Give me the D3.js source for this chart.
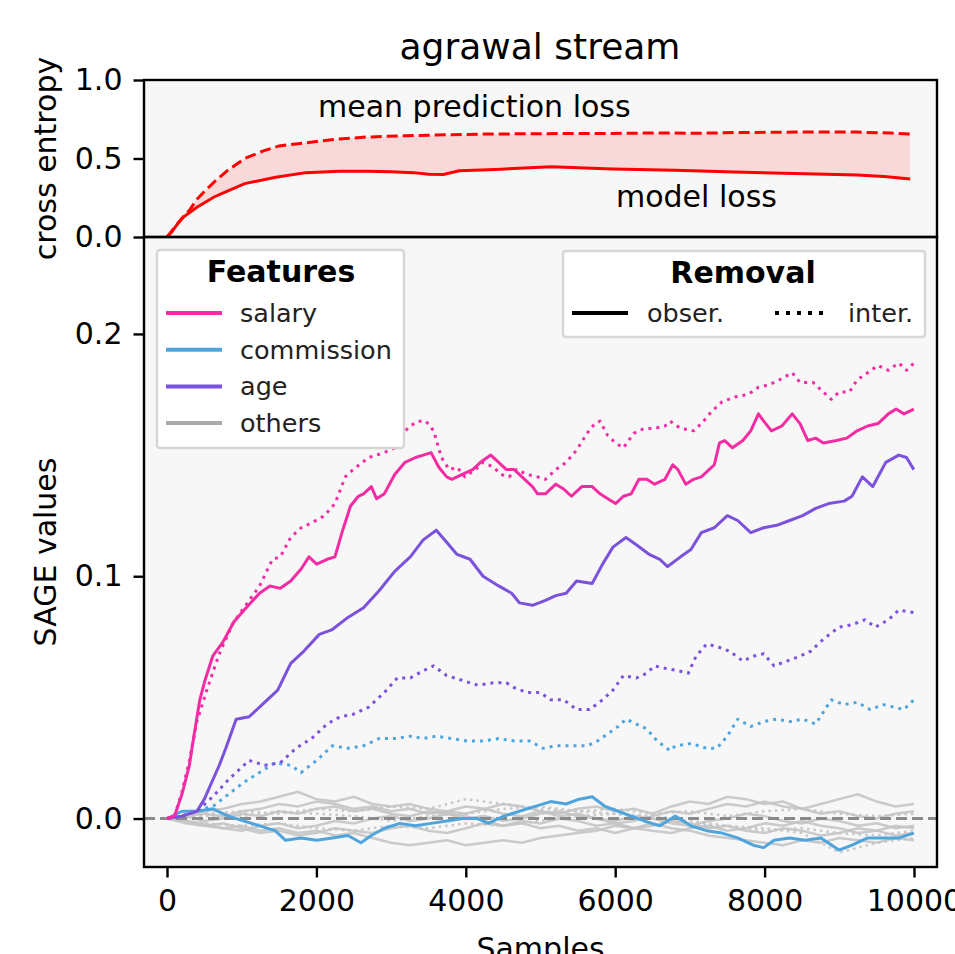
<!DOCTYPE html>
<html>
<head>
<meta charset="utf-8">
<script src="https://cdn.jsdelivr.net/npm/d3@7"></script>
<style>
  body { margin: 0; background: #fff; }
  text { font-family: "DejaVu Sans", sans-serif; }
</style>
</head>
<body>
<svg id="chart" width="955" height="954"></svg>
<script>
// ---- data ----
// top panel: cross entropy [sample, value]
const meanPredLoss = [[0,0],[100,0.06],[200,0.12],[300,0.17],[400,0.24],[500,0.29],[630,0.35],[800,0.42],[1040,0.5],[1300,0.55],[1500,0.58],[1860,0.6],[2200,0.62],[2680,0.637],[3200,0.645],[3800,0.652],[4320,0.656],[5000,0.658],[5960,0.66],[6700,0.663],[7000,0.66],[7600,0.665],[8400,0.668],[9240,0.668],[9700,0.662],[9950,0.656]];
const modelLoss = [[0,0],[60,0.03],[150,0.09],[228,0.13],[400,0.19],[630,0.255],[800,0.29],[1040,0.34],[1455,0.38],[1860,0.41],[2300,0.418],[2680,0.418],[3000,0.415],[3300,0.41],[3500,0.4],[3700,0.398],[3910,0.422],[4400,0.43],[5140,0.448],[5600,0.44],[5960,0.433],[6800,0.425],[7600,0.414],[8400,0.405],[9240,0.395],[9600,0.385],[9950,0.37]];

// bottom panel: SAGE values [sample, value]
const salaryObs = [[0,0],[100,0.001],[200,0.01],[300,0.022],[334,0.029],[439,0.049],[508,0.057],[612,0.067],[752,0.073],[891,0.081],[1030,0.086],[1239,0.093],[1378,0.096],[1517,0.095],[1656,0.098],[1795,0.103],[1900,0.108],[2004,0.105],[2143,0.107],[2248,0.108],[2352,0.119],[2457,0.129],[2561,0.133],[2631,0.134],[2735,0.137],[2805,0.132],[2909,0.134],[3048,0.142],[3187,0.147],[3326,0.149],[3430,0.15],[3535,0.151],[3639,0.145],[3744,0.141],[3813,0.14],[3953,0.142],[4092,0.144],[4196,0.147],[4335,0.15],[4440,0.147],[4544,0.144],[4649,0.144],[4788,0.14],[4892,0.137],[4962,0.134],[5066,0.134],[5205,0.138],[5310,0.136],[5414,0.133],[5553,0.137],[5692,0.137],[5797,0.134],[5901,0.132],[6005,0.13],[6110,0.133],[6214,0.134],[6318,0.14],[6423,0.14],[6527,0.138],[6666,0.14],[6771,0.146],[6840,0.144],[6944,0.138],[7049,0.14],[7153,0.141],[7257,0.144],[7327,0.146],[7396,0.155],[7466,0.156],[7570,0.153],[7709,0.156],[7814,0.16],[7918,0.167],[7988,0.164],[8092,0.16],[8231,0.162],[8370,0.167],[8474,0.163],[8579,0.156],[8683,0.157],[8787,0.155],[8961,0.156],[9100,0.157],[9239,0.16],[9379,0.162],[9518,0.163],[9657,0.167],[9761,0.169],[9866,0.167],[9998,0.169]];
const salaryInt = [[0,0],[100,0.001],[200,0.011],[300,0.024],[400,0.04],[543,0.054],[700,0.068],[891,0.081],[1030,0.087],[1239,0.096],[1413,0.107],[1517,0.108],[1656,0.116],[1795,0.12],[1934,0.122],[2108,0.125],[2248,0.13],[2387,0.141],[2491,0.144],[2700,0.149],[2909,0.151],[3048,0.153],[3118,0.158],[3257,0.162],[3361,0.164],[3466,0.164],[3570,0.16],[3674,0.149],[3779,0.144],[3883,0.145],[3987,0.141],[4127,0.144],[4231,0.147],[4370,0.145],[4474,0.142],[4579,0.141],[4683,0.144],[4822,0.142],[4962,0.141],[5066,0.14],[5205,0.144],[5344,0.147],[5483,0.152],[5623,0.159],[5727,0.163],[5797,0.164],[5901,0.158],[6005,0.155],[6110,0.153],[6249,0.159],[6388,0.161],[6527,0.161],[6666,0.162],[6736,0.164],[6875,0.161],[7049,0.16],[7153,0.163],[7292,0.168],[7431,0.172],[7605,0.174],[7779,0.175],[7918,0.178],[8057,0.179],[8196,0.181],[8370,0.184],[8474,0.18],[8648,0.18],[8787,0.176],[8892,0.173],[8996,0.176],[9135,0.176],[9239,0.181],[9379,0.184],[9518,0.187],[9657,0.185],[9796,0.188],[9900,0.185],[9998,0.188]];
const ageObs = [[0,0],[200,0.001],[300,0.002],[400,0.003],[500,0.008],[600,0.015],[700,0.022],[787,0.029],[926,0.041],[1100,0.042],[1274,0.047],[1482,0.053],[1656,0.064],[1830,0.069],[2039,0.076],[2213,0.078],[2422,0.083],[2631,0.087],[2839,0.094],[3048,0.102],[3257,0.108],[3430,0.115],[3605,0.119],[3744,0.114],[3883,0.109],[4057,0.107],[4231,0.1],[4440,0.096],[4614,0.093],[4718,0.089],[4892,0.088],[5066,0.09],[5205,0.092],[5344,0.093],[5483,0.098],[5692,0.097],[5831,0.105],[5970,0.112],[6144,0.116],[6283,0.113],[6457,0.109],[6596,0.107],[6701,0.104],[6875,0.108],[7014,0.111],[7153,0.118],[7327,0.12],[7501,0.125],[7640,0.123],[7814,0.118],[7988,0.12],[8161,0.121],[8335,0.123],[8509,0.125],[8683,0.128],[8857,0.13],[9065,0.131],[9170,0.133],[9309,0.141],[9448,0.137],[9622,0.147],[9796,0.15],[9900,0.149],[9998,0.144]];
const ageInt = [[0,0],[200,0.001],[400,0.003],[613,0.009],[822,0.016],[1100,0.024],[1308,0.022],[1517,0.023],[1726,0.029],[1934,0.033],[2143,0.039],[2317,0.042],[2491,0.043],[2700,0.046],[2909,0.052],[3083,0.058],[3257,0.058],[3430,0.061],[3570,0.063],[3744,0.059],[3953,0.057],[4161,0.055],[4370,0.056],[4544,0.056],[4649,0.054],[4822,0.052],[4996,0.052],[5136,0.049],[5310,0.049],[5483,0.045],[5657,0.045],[5831,0.049],[5970,0.053],[6110,0.059],[6283,0.058],[6423,0.06],[6527,0.063],[6666,0.062],[6840,0.061],[6979,0.06],[7083,0.067],[7222,0.072],[7362,0.071],[7536,0.069],[7709,0.065],[7849,0.067],[7988,0.068],[8127,0.063],[8300,0.065],[8474,0.067],[8613,0.069],[8787,0.074],[8996,0.079],[9170,0.08],[9344,0.082],[9483,0.079],[9657,0.082],[9796,0.086],[9998,0.085]];
const commissionObs = [[0,0],[200,0.003],[404,0.003],[613,0.004],[822,0.001],[1030,-0.001],[1239,-0.003],[1448,-0.005],[1587,-0.009],[1795,-0.008],[2004,-0.009],[2213,-0.008],[2422,-0.007],[2596,-0.01],[2735,-0.007],[2909,-0.004],[3118,-0.002],[3326,-0.003],[3535,-0.002],[3744,-0.001],[3953,0],[4161,0],[4300,-0.002],[4509,0.001],[4718,0.003],[4927,0.005],[5136,0.007],[5344,0.006],[5518,0.008],[5692,0.009],[5866,0.005],[6040,0.003],[6214,0.001],[6388,-0.001],[6596,-0.003],[6805,0.001],[7014,-0.003],[7222,-0.005],[7431,-0.006],[7640,-0.008],[7849,-0.011],[7988,-0.012],[8127,-0.009],[8335,-0.008],[8544,-0.009],[8753,-0.008],[8996,-0.013],[9170,-0.011],[9379,-0.008],[9587,-0.008],[9796,-0.008],[9998,-0.006]];
const commissionInt = [[0,0],[200,0.001],[334,0.003],[613,0.005],[822,0.01],[1030,0.015],[1239,0.019],[1448,0.023],[1656,0.022],[1795,0.019],[2004,0.024],[2213,0.03],[2422,0.029],[2631,0.03],[2839,0.033],[3048,0.033],[3257,0.034],[3430,0.033],[3605,0.034],[3813,0.033],[4022,0.032],[4231,0.032],[4440,0.033],[4649,0.032],[4857,0.032],[5031,0.029],[5205,0.03],[5414,0.03],[5623,0.03],[5762,0.032],[5901,0.035],[6040,0.038],[6144,0.041],[6283,0.039],[6423,0.037],[6562,0.032],[6736,0.028],[6805,0.03],[7014,0.031],[7222,0.029],[7362,0.029],[7501,0.034],[7640,0.041],[7814,0.038],[7988,0.04],[8161,0.041],[8335,0.04],[8509,0.041],[8683,0.039],[8892,0.049],[9065,0.047],[9239,0.048],[9413,0.045],[9587,0.047],[9726,0.046],[9866,0.045],[9998,0.049]];

// the six other features (every 250 samples)
const otherSamples = d3.range(0, 10001, 250);
const othersObs = [
  [0,0.001,0.003,0.004,0.006,0.007,0.009,0.011,0.008,0.007,0.009,0.006,0.005,0.006,0.004,0.003,0.002,0.004,0.002,0.001,0.003,0.002,0.004,0.005,0.003,0.004,0.002,0.005,0.007,0.006,0.009,0.008,0.006,0.007,0.004,0.006,0.008,0.01,0.007,0.005,0.006],
  [0,-0.002,-0.003,-0.004,-0.003,-0.005,-0.004,-0.006,-0.005,-0.007,-0.006,-0.008,-0.01,-0.011,-0.01,-0.009,-0.011,-0.01,-0.009,-0.01,-0.008,-0.007,-0.006,-0.005,-0.003,-0.004,-0.002,-0.004,-0.005,-0.007,-0.008,-0.009,-0.01,-0.011,-0.009,-0.01,-0.008,-0.009,-0.01,-0.008,-0.009],
  [0,0.001,-0.001,0,0.002,0.001,0.003,0.002,0.004,0.005,0.003,0.004,0.002,0.001,0.003,0.002,0,0.001,-0.001,0,0.002,0.003,0.001,0,-0.002,-0.001,0.001,0.003,0.002,0.004,0.006,0.005,0.007,0.005,0.004,0.002,0.003,0.001,0,0.002,0.003],
  [0,-0.001,-0.002,-0.004,-0.005,-0.003,-0.002,-0.004,-0.003,-0.001,-0.002,0,0.001,-0.001,0,0.002,0.001,-0.001,-0.003,-0.002,-0.004,-0.003,-0.005,-0.004,-0.006,-0.004,-0.003,-0.001,-0.002,-0.004,-0.003,-0.005,-0.006,-0.004,-0.005,-0.007,-0.006,-0.004,-0.005,-0.003,-0.004],
  [0,0.001,0.002,0.001,0.003,0.004,0.006,0.005,0.007,0.006,0.004,0.005,0.003,0.004,0.002,0.003,0.005,0.004,0.006,0.005,0.003,0.001,0.002,0,-0.001,0.001,0,-0.002,-0.003,-0.001,0,0.002,0.001,-0.001,-0.002,0,-0.001,-0.003,-0.002,-0.004,-0.003],
  [0,-0.001,-0.003,-0.002,-0.004,-0.006,-0.005,-0.007,-0.006,-0.004,-0.005,-0.006,-0.004,-0.003,-0.005,-0.006,-0.004,-0.002,-0.003,-0.001,-0.002,0,-0.001,-0.003,-0.002,-0.004,-0.005,-0.006,-0.004,-0.003,-0.005,-0.004,-0.002,-0.003,-0.001,-0.003,-0.004,-0.006,-0.005,-0.007,-0.006]
];
const otherIntSamples = d3.range(0, 10001, 500);
const othersInt = [
  [0,0.002,0.003,0.002,0.004,0.003,0.005,0.004,0.008,0.006,0.004,0.003,0.002,0.001,-0.001,-0.003,-0.004,-0.006,-0.014,-0.01,-0.008],
  [0,-0.002,-0.003,-0.002,-0.004,-0.005,-0.003,-0.004,-0.002,-0.003,-0.001,0.001,0.002,0,-0.002,-0.003,-0.005,-0.004,-0.006,-0.007,-0.005],
  [0,0.001,0.001,0.003,0.002,0.001,-0.001,0.001,0.002,0.004,0.005,0.003,0.004,0.002,0.003,0.001,0.003,0.004,0.002,0.001,0.002]
];

const xTicks = [0, 2000, 4000, 6000, 8000, 10000];

// ---- layout ----
const svg = d3.select("#chart");
const left = 144, right = 937;
const topY0 = 80, topY1 = 237, botY1 = 867;

const x = d3.scaleLinear().domain([-308, 10308]).range([left, right]);
const yTop = d3.scaleLinear().domain([0, 1]).range([topY1, topY0]);
const yBot = d3.scaleLinear().domain([-0.02, 0.24]).range([botY1, topY1]);

const colors = { salary: "#f42ca3", commission: "#4ea5de", age: "#7b52dc", others: "#aaaaaa" };

// backgrounds
svg.append("rect").attr("x", left).attr("y", topY0).attr("width", right - left).attr("height", topY1 - topY0).attr("fill", "#f7f7f7");
svg.append("rect").attr("x", left).attr("y", topY1).attr("width", right - left).attr("height", botY1 - topY1).attr("fill", "#f7f7f7");

const defs = svg.append("defs");
defs.append("clipPath").attr("id", "clipTop")
  .append("rect").attr("x", left).attr("y", topY0).attr("width", right - left).attr("height", topY1 - topY0);
defs.append("clipPath").attr("id", "clipBot")
  .append("rect").attr("x", left).attr("y", topY1).attr("width", right - left).attr("height", botY1 - topY1);

// ---- top panel ----
const lossG = svg.append("g").attr("clip-path", "url(#clipTop)");
const lineTop = d3.line().x(d => x(d[0])).y(d => yTop(d[1]));

const area = d3.area()
  .x(d => x(d[0]))
  .y0(d => yTop(d[1]))
  .y1(d => yTop(d[2]));
// pair model loss with the mean prediction loss at the same sample
const bandData = modelLoss.map(d => {
  const i = d3.bisector(m => m[0]).left(meanPredLoss, d[0]);
  const a = meanPredLoss[Math.max(0, i - 1)], b = meanPredLoss[Math.min(meanPredLoss.length - 1, i)];
  const t = b[0] === a[0] ? 0 : (d[0] - a[0]) / (b[0] - a[0]);
  return [d[0], d[1], a[1] + (b[1] - a[1]) * t];
});
lossG.append("path").datum(bandData).attr("d", area)
  .attr("fill", "#ff0000").attr("fill-opacity", 0.12);

lossG.append("path").datum(meanPredLoss).attr("d", lineTop)
  .attr("fill", "none").attr("stroke", "#ff0000").attr("stroke-width", 3)
  .attr("stroke-dasharray", "11,5");
lossG.append("path").datum(modelLoss).attr("d", lineTop)
  .attr("fill", "none").attr("stroke", "#ff0000").attr("stroke-width", 3);

svg.append("text").attr("x", 318).attr("y", 117).text("mean prediction loss")
  .style("font-size", "30px");
svg.append("text").attr("x", 616).attr("y", 207).text("model loss")
  .style("font-size", "30px");

// ---- bottom panel ----
const sageG = svg.append("g").attr("clip-path", "url(#clipBot)");
const lineBot = d3.line().x(d => x(d[0])).y(d => yBot(d[1]));

othersInt.forEach(vals => {
  sageG.append("path").datum(vals.map((v, i) => [otherIntSamples[i], v])).attr("d", lineBot)
    .attr("fill", "none").attr("stroke", "#c8c8c8").attr("stroke-width", 2.5)
    .attr("stroke-dasharray", "2.5,4");
});
othersObs.forEach(vals => {
  sageG.append("path").datum(vals.map((v, i) => [otherSamples[i], v])).attr("d", lineBot)
    .attr("fill", "none").attr("stroke", "#c4c4c4").attr("stroke-width", 2.5)
    .attr("stroke-opacity", 0.9);
});

// zero line
sageG.append("line").attr("x1", left).attr("x2", right)
  .attr("y1", yBot(0)).attr("y2", yBot(0))
  .attr("stroke", "#8a8a8a").attr("stroke-width", 3).attr("stroke-dasharray", "11,5");

const series = [
  { data: commissionObs, color: colors.commission, dotted: false },
  { data: commissionInt, color: colors.commission, dotted: true },
  { data: ageInt, color: colors.age, dotted: true },
  { data: ageObs, color: colors.age, dotted: false },
  { data: salaryInt, color: colors.salary, dotted: true },
  { data: salaryObs, color: colors.salary, dotted: false }
];
series.forEach(s => {
  sageG.append("path").datum(s.data).attr("d", lineBot)
    .attr("fill", "none").attr("stroke", s.color).attr("stroke-width", 3)
    .attr("stroke-linejoin", "round")
    .attr("stroke-dasharray", s.dotted ? "3,5" : null);
});

// ---- axes ----
const yAxisTop = svg.append("g").attr("transform", "translate(" + left + ",0)")
  .call(d3.axisLeft(yTop).tickValues([0, 0.5, 1]).tickFormat(d3.format(".1f")).tickSize(10.5).tickPadding(11));
const yAxisBot = svg.append("g").attr("transform", "translate(" + left + ",0)")
  .call(d3.axisLeft(yBot).tickValues([0, 0.1, 0.2]).tickFormat(d3.format(".1f")).tickSize(10.5).tickPadding(11));
const xAxis = svg.append("g").attr("transform", "translate(0," + botY1 + ")")
  .call(d3.axisBottom(x).tickValues(xTicks).tickFormat(d3.format("d")).tickSize(10.5).tickPadding(12.5));

[yAxisTop, yAxisBot, xAxis].forEach(g => {
  g.select(".domain").remove();
  g.selectAll(".tick line").attr("stroke", "#000").attr("stroke-width", 2.4);
  g.selectAll(".tick text").attr("fill", "#000")
    .style("font-size", "30px").style("font-family", "DejaVu Sans");
});

// frames
svg.append("rect").attr("x", left).attr("y", topY0).attr("width", right - left).attr("height", topY1 - topY0)
  .attr("fill", "none").attr("stroke", "#000").attr("stroke-width", 2.4);
svg.append("rect").attr("x", left).attr("y", topY1).attr("width", right - left).attr("height", botY1 - topY1)
  .attr("fill", "none").attr("stroke", "#000").attr("stroke-width", 2.4);

// titles & labels
svg.append("text").attr("x", 540).attr("y", 59).attr("text-anchor", "middle")
  .text("agrawal stream").style("font-size", "36px");
svg.append("text").attr("transform", "translate(56," + (topY0 + topY1) / 2 + ") rotate(-90)")
  .attr("text-anchor", "middle").text("cross entropy").style("font-size", "30px");
svg.append("text").attr("transform", "translate(56," + (topY1 + botY1) / 2 + ") rotate(-90)")
  .attr("text-anchor", "middle").text("SAGE values").style("font-size", "30px");
svg.append("text").attr("x", (left + right) / 2).attr("y", 959).attr("text-anchor", "middle")
  .text("Samples").style("font-size", "30px");

// ---- legends ----
const features = ["salary", "commission", "age", "others"];
const legF = svg.append("g");
legF.append("rect").attr("x", 157).attr("y", 250).attr("width", 247).attr("height", 198).attr("rx", 3)
  .attr("fill", "#fff").attr("stroke", "#d6d6d6").attr("stroke-width", 2.4);
legF.append("text").attr("x", 281).attr("y", 282).attr("text-anchor", "middle")
  .text("Features").style("font-size", "30px").style("font-weight", "bold");
features.forEach((f, i) => {
  const yy = 313 + i * 36.7;
  legF.append("line").attr("x1", 166).attr("x2", 222).attr("y1", yy).attr("y2", yy)
    .attr("stroke", colors[f]).attr("stroke-width", 4);
  legF.append("text").attr("x", 240).attr("y", yy + 9).text(f).style("font-size", "25.5px").attr("fill", "#222");
});

const legR = svg.append("g");
legR.append("rect").attr("x", 563).attr("y", 251).attr("width", 362).attr("height", 86).attr("rx", 3)
  .attr("fill", "#fff").attr("stroke", "#d6d6d6").attr("stroke-width", 2.4);
legR.append("text").attr("x", 743).attr("y", 283).attr("text-anchor", "middle")
  .text("Removal").style("font-size", "30px").style("font-weight", "bold");
legR.append("line").attr("x1", 572).attr("x2", 628).attr("y1", 313).attr("y2", 313)
  .attr("stroke", "#000").attr("stroke-width", 4);
legR.append("text").attr("x", 647).attr("y", 322).text("obser.").style("font-size", "25.5px").attr("fill", "#222");
legR.append("line").attr("x1", 775).attr("x2", 829).attr("y1", 313).attr("y2", 313)
  .attr("stroke", "#000").attr("stroke-width", 4).attr("stroke-dasharray", "4,7");
legR.append("text").attr("x", 848).attr("y", 322).text("inter.").style("font-size", "25.5px").attr("fill", "#222");
</script>
</body>
</html>
